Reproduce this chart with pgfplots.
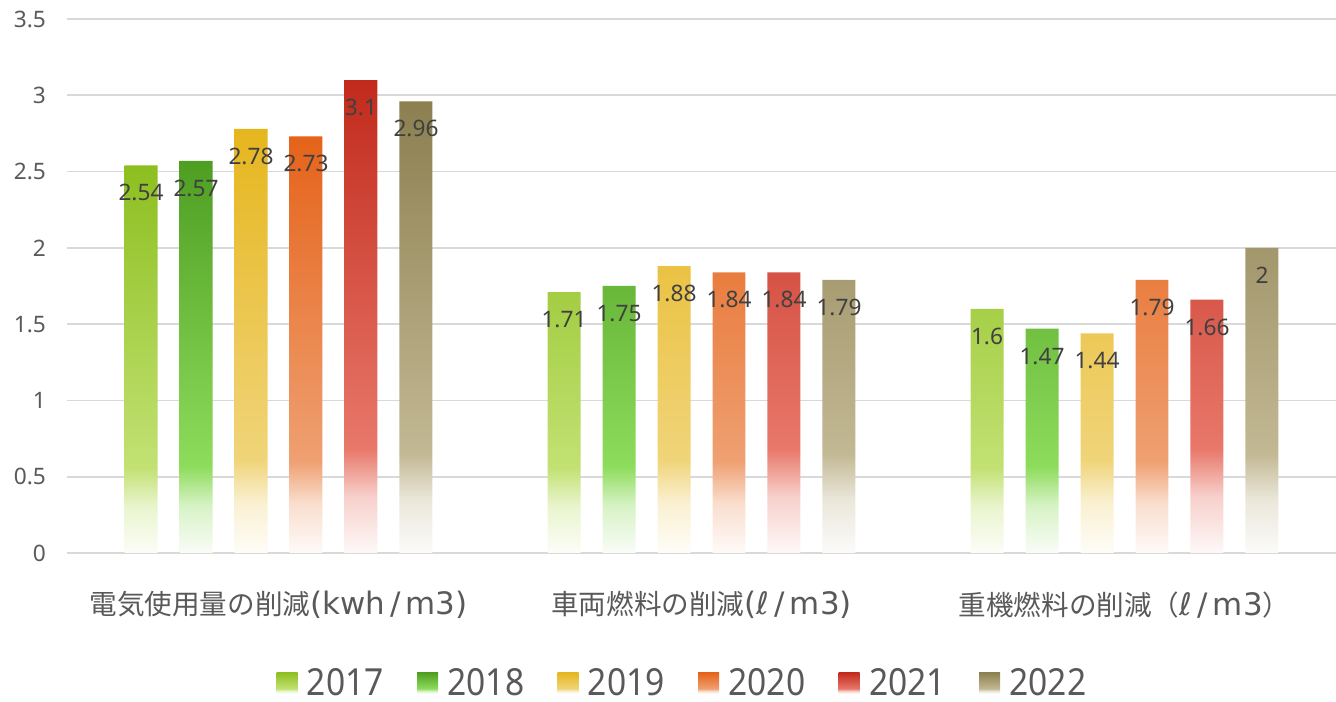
\documentclass[border=0pt]{standalone}
\usepackage{fontspec}
\setmainfont{Noto Sans}
\newfontfamily\cjk{Noto Sans CJK JP}
\newfontfamily\lat{DejaVu Sans}[Scale=1.12]
\newfontfamily\legf{Noto Sans}[FakeStretch=0.9]
\usepackage{pgfplots}
\pgfplotsset{compat=1.18}

\definecolor{gridc}{HTML}{D9D9D9}
\definecolor{tickc}{HTML}{595959}
\definecolor{lblc}{HTML}{404040}
\definecolor{c17}{HTML}{8DBF20}\definecolor{m17}{HTML}{C2E173}
\definecolor{c18}{HTML}{4E9E22}\definecolor{m18}{HTML}{8EDC5C}
\definecolor{c19}{HTML}{E6B61E}\definecolor{m19}{HTML}{F0D479}
\definecolor{c20}{HTML}{E5631A}\definecolor{m20}{HTML}{EFA072}
\definecolor{c21}{HTML}{C12A1C}\definecolor{m21}{HTML}{E8786A}
\definecolor{c22}{HTML}{8C7F50}\definecolor{m22}{HTML}{C2B893}

\pgfdeclareverticalshading{s17}{100bp}{color(0bp)=(c17!3!white); color(25bp)=(c17!3!white); color(31bp)=(m17!35!white); color(36bp)=(m17); color(75bp)=(c17); color(100bp)=(c17)}
\pgfdeclareverticalshading{s18}{100bp}{color(0bp)=(c18!3!white); color(25bp)=(c18!3!white); color(31bp)=(m18!35!white); color(36bp)=(m18); color(75bp)=(c18); color(100bp)=(c18)}
\pgfdeclareverticalshading{s19}{100bp}{color(0bp)=(c19!3!white); color(25bp)=(c19!3!white); color(31bp)=(m19!35!white); color(36bp)=(m19); color(75bp)=(c19); color(100bp)=(c19)}
\pgfdeclareverticalshading{s20}{100bp}{color(0bp)=(c20!3!white); color(25bp)=(c20!3!white); color(31bp)=(m20!35!white); color(36bp)=(m20); color(75bp)=(c20); color(100bp)=(c20)}
\pgfdeclareverticalshading{s21}{100bp}{color(0bp)=(c21!3!white); color(25bp)=(c21!3!white); color(31bp)=(m21!35!white); color(36bp)=(m21); color(75bp)=(c21); color(100bp)=(c21)}
\pgfdeclareverticalshading{s22}{100bp}{color(0bp)=(c22!3!white); color(25bp)=(c22!3!white); color(31bp)=(m22!35!white); color(36bp)=(m22); color(75bp)=(c22); color(100bp)=(c22)}

\begin{document}
\begin{tikzpicture}
\begin{axis}[
  at={(0,0)}, anchor=south west,
  scale only axis, width=951.75pt, height=400.5pt,
  xmin=-0.5, xmax=2.5, ymin=0, ymax=3.5,
  ytick={0,0.5,1,1.5,2,2.5,3,3.5},
  xtick={0,1,2},
  xticklabels={{\cjk 電気使用量の削減}{\lat (kwh\,/\,m3)},{\cjk 車両燃料の削減}{\lat (ℓ\,/\,m3)},{\cjk 重機燃料の削減（}{\lat ℓ\,/\,m3}{\cjk ）}},
  ymajorgrids, grid style={line width=1.2pt, gridc},
  axis line style={draw=none},
  major tick length=0pt,
  /pgf/number format/assume math mode=true,
  yticklabel style={font=\fontsize{17pt}{19pt}\selectfont, text=tickc, anchor=east, xshift=-12.3pt},
  xticklabel style={font=\fontsize{20.7pt}{23pt}\selectfont, text=tickc, anchor=center, yshift=-39pt},
  nodes near coords,
  every node near coord/.append style={font=\fontsize{17pt}{19pt}\selectfont, text=lblc, anchor=center, yshift=-20.5pt},
  bar width=0.078,
  legend columns=6,
  legend style={at={(0.4858,-0.2434)}, anchor=center, draw=none, fill=none,
    font=\legf\fontsize{28pt}{30pt}\selectfont, text=tickc, nodes={inner sep=3pt},
    /tikz/every odd column/.append style={column sep=4pt},
    /tikz/every even column/.append style={column sep=22pt}},
  legend image code/.code={\path[#1] (0pt,-7.875pt) rectangle (15.75pt,7.875pt);},
]
\addplot[ybar, bar shift=-0.325, draw=none, shade, shading=s17, every node near coord/.append style={xshift=-103.125pt}] coordinates {(0,2.54) (1,1.71) (2,1.6)};
\addlegendentry{2017}
\addplot[ybar, bar shift=-0.195, draw=none, shade, shading=s18, every node near coord/.append style={xshift=-61.875pt}] coordinates {(0,2.57) (1,1.75) (2,1.47)};
\addlegendentry{2018}
\addplot[ybar, bar shift=-0.065, draw=none, shade, shading=s19, every node near coord/.append style={xshift=-20.625pt}] coordinates {(0,2.78) (1,1.88) (2,1.44)};
\addlegendentry{2019}
\addplot[ybar, bar shift=0.065, draw=none, shade, shading=s20, every node near coord/.append style={xshift=20.625pt}] coordinates {(0,2.73) (1,1.84) (2,1.79)};
\addlegendentry{2020}
\addplot[ybar, bar shift=0.195, draw=none, shade, shading=s21, every node near coord/.append style={xshift=61.875pt}] coordinates {(0,3.1) (1,1.84) (2,1.66)};
\addlegendentry{2021}
\addplot[ybar, bar shift=0.325, draw=none, shade, shading=s22, every node near coord/.append style={xshift=103.125pt}] coordinates {(0,2.96) (1,1.79) (2,2)};
\addlegendentry{2022}
\end{axis}
\pgfresetboundingbox
\useasboundingbox (-50.25pt,-111.75pt) rectangle (951.75pt,414.75pt);
\end{tikzpicture}
\end{document}
